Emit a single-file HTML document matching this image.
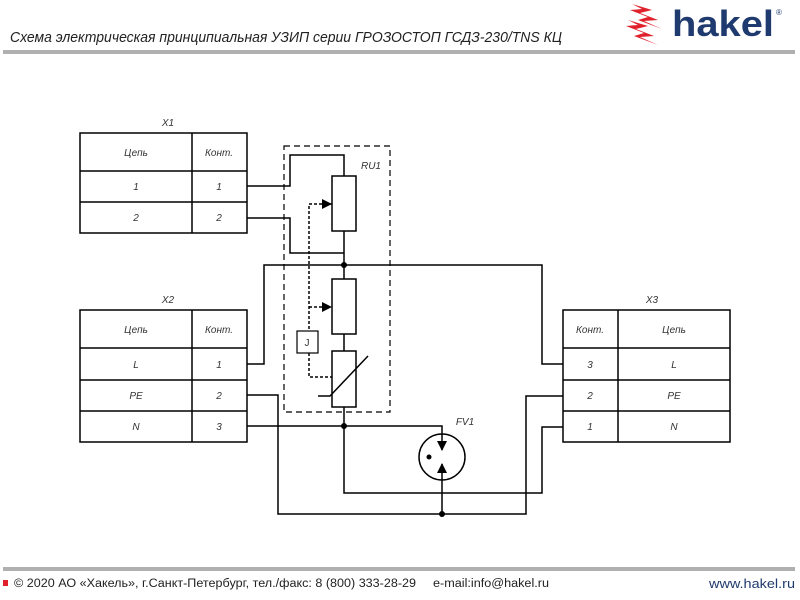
<!DOCTYPE html>
<html><head><meta charset="utf-8"><style>
html,body{margin:0;padding:0;background:#fff;width:800px;height:600px;overflow:hidden}
svg{display:block}
</style></head><body>
<svg width="800" height="600" viewBox="0 0 800 600" xmlns="http://www.w3.org/2000/svg" font-family="Liberation Sans, DejaVu Sans, sans-serif">
<text x="10" y="42" font-size="15" font-style="italic" fill="#222" textLength="552" lengthAdjust="spacingAndGlyphs">Схема электрическая принципиальная УЗИП серии ГРОЗОСТОП ГСДЗ-230/TNS КЦ</text>
<rect x="3" y="50" width="792" height="4" fill="#b0b0b0"/>
<!-- logo -->
<g fill="#e0202a">
<polygon points="632,4 652,10 640,13 658,20 644,21 662,29 638,20 648,17 630,10 642,9"/>
<polygon points="628,20 648,26 636,29 654,36 640,37 658,45 634,36 644,33 626,26 638,25"/>
</g>
<text x="672" y="36" font-size="36" font-weight="bold" fill="#1f3a6e" textLength="102" lengthAdjust="spacingAndGlyphs">hakel</text>
<text x="776" y="15" font-size="8" fill="#1f3a6e">®</text>

<g stroke="#000" stroke-width="1.5" fill="none">
<rect x="80" y="133" width="167" height="100"/>
<line x1="192" y1="133" x2="192" y2="233"/>
<line x1="80" y1="171" x2="247" y2="171"/>
<line x1="80" y1="202" x2="247" y2="202"/>
<rect x="80" y="310" width="167" height="132"/>
<line x1="192" y1="310" x2="192" y2="442"/>
<line x1="80" y1="348" x2="247" y2="348"/>
<line x1="80" y1="380" x2="247" y2="380"/>
<line x1="80" y1="411" x2="247" y2="411"/>
<rect x="563" y="310" width="167" height="132"/>
<line x1="618" y1="310" x2="618" y2="442"/>
<line x1="563" y1="348" x2="730" y2="348"/>
<line x1="563" y1="380" x2="730" y2="380"/>
<line x1="563" y1="411" x2="730" y2="411"/>

<rect x="284" y="146" width="106" height="266" stroke-dasharray="6,4" stroke-width="1.2"/>
<polyline points="247,186 290,186 290,155 344,155 344,265"/>
<polyline points="247,218 290,218 290,253 344,253"/>
<rect x="332" y="176" width="24" height="55" fill="#fff"/>
<polyline points="247,364 264,364 264,265 542,265 542,364 563,364"/>
<line x1="344" y1="265" x2="344" y2="426"/>
<rect x="332" y="279" width="24" height="55" fill="#fff"/>
<rect x="332" y="351" width="24" height="56" fill="#fff"/>
<polyline points="318,396 330,396 368,356"/>
<rect x="297" y="331" width="21" height="22" fill="#fff" stroke-width="1.2"/>
<polyline points="332,204 309,204 309,331" stroke-dasharray="3,2"/>
<polyline points="309,353 309,377 332,377" stroke-dasharray="3,2"/>
<line x1="309" y1="307" x2="326" y2="307" stroke-dasharray="3,2"/>
<polyline points="247,426 442,426 442,450"/>
<polyline points="344,426 344,493 542,493 542,427 563,427"/>
<polyline points="247,395 278,395 278,514 526,514 526,396 563,396"/>
<line x1="442" y1="514" x2="442" y2="464"/>
<circle cx="442" cy="457" r="23"/>
</g>
<g fill="#000">
<polygon points="332,204 322,199 322,209"/>
<polygon points="332,307 322,302 322,312"/>
<polygon points="442,451 437,441 447,441"/>
<polygon points="442,463 437,473 447,473"/>
<circle cx="429" cy="457" r="2.5"/>
<circle cx="344" cy="265" r="3"/>
<circle cx="344" cy="426" r="3"/>
<circle cx="442" cy="514" r="3"/>
</g>
<g font-size="10" font-style="italic" fill="#333" text-anchor="middle">
<text x="168" y="126">X1</text>
<text x="168" y="303">X2</text>
<text x="652" y="303">X3</text>
<text x="371" y="169">RU1</text>
<text x="465" y="425">FV1</text>
<text x="307" y="346" font-style="normal">J</text>
<text x="136" y="156">Цепь</text><text x="219" y="156">Конт.</text>
<text x="136" y="190">1</text><text x="219" y="190">1</text>
<text x="136" y="221">2</text><text x="219" y="221">2</text>
<text x="136" y="333">Цепь</text><text x="219" y="333">Конт.</text>
<text x="136" y="368">L</text><text x="219" y="368">1</text>
<text x="136" y="399">PE</text><text x="219" y="399">2</text>
<text x="136" y="430">N</text><text x="219" y="430">3</text>
<text x="590" y="333">Конт.</text><text x="674" y="333">Цепь</text>
<text x="590" y="368">3</text><text x="674" y="368">L</text>
<text x="590" y="399">2</text><text x="674" y="399">PE</text>
<text x="590" y="430">1</text><text x="674" y="430">N</text>
</g>
<rect x="3" y="567" width="792" height="4" fill="#b0b0b0"/>
<rect x="3" y="580" width="5" height="6" fill="#e0202a"/>
<text x="14" y="587" font-size="11.5" fill="#222" textLength="402" lengthAdjust="spacingAndGlyphs">© 2020 АО «Хакель», г.Санкт-Петербург, тел./факс: 8 (800) 333-28-29</text>
<text x="433" y="587" font-size="11.5" fill="#222" textLength="116" lengthAdjust="spacingAndGlyphs">e-mail:info@hakel.ru</text>
<text x="795" y="588" font-size="13" fill="#1f3a6e" text-anchor="end" textLength="86" lengthAdjust="spacingAndGlyphs">www.hakel.ru</text>
</svg>
</body></html>
